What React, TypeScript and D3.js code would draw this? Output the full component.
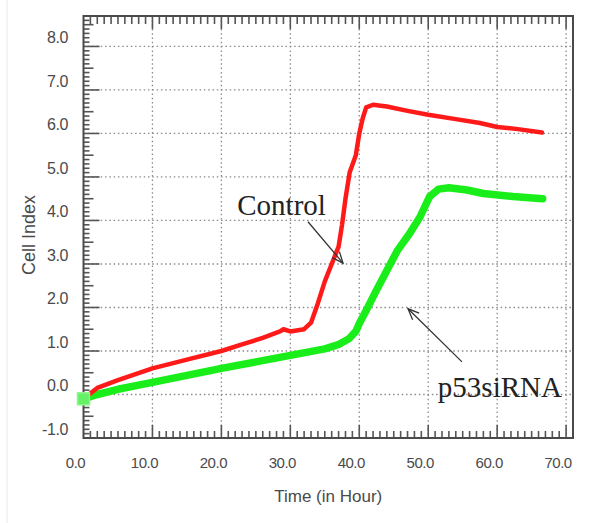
import React from "react";
import * as d3 from "d3";

const controlTime = [0, 2, 5, 10, 15, 20, 23, 26, 28.5, 29, 30, 32, 33, 34, 35, 36, 37, 37.5, 38, 38.6, 39.5, 40, 40.5, 41, 42, 44, 47, 50, 54, 57.5, 60, 63, 66.5];
const controlValue = [-0.1, 0.15, 0.33, 0.6, 0.8, 1.0, 1.15, 1.3, 1.45, 1.5, 1.45, 1.5, 1.65, 2.1, 2.6, 3.0, 3.4, 3.9, 4.5, 5.1, 5.5, 6.0, 6.35, 6.6, 6.66, 6.62, 6.52, 6.43, 6.33, 6.24, 6.15, 6.1, 6.02];

const sirnaTime = [0, 2, 5, 10, 15, 20, 25, 30, 35, 37, 38.5, 39.5, 40, 41, 42.5, 44, 45.5, 47.3, 48.8, 50.2, 51.5, 53, 55.6, 58, 62.3, 66.6];
const sirnaValue = [-0.1, 0.0, 0.12, 0.28, 0.44, 0.6, 0.75, 0.9, 1.05, 1.15, 1.28, 1.45, 1.63, 1.93, 2.4, 2.85, 3.3, 3.7, 4.08, 4.55, 4.72, 4.75, 4.7, 4.62, 4.55, 4.5];

const xTickValues = [0, 10, 20, 30, 40, 50, 60, 70];
const yTickValues = [-1, 0, 1, 2, 3, 4, 5, 6, 7, 8];

const annotationLabels = ["Control", "p53siRNA"];
const annotationTextPos = [[22.3, 4.13], [51.4, -0.06]];
const annotationArrowFrom = [[32.56, 3.97], [54.9, 0.75]];
const annotationArrowTo = [[37.64, 3.02], [47.07, 1.97]];

export default function App() {
  const W = 601, H = 523;
  const x = d3.scaleLinear().domain([0, 71]).range([83.5, 573]);
  const y = d3.scaleLinear().domain([-1, 8.7]).range([438, 16]);
  const left = x(0), right = x(71), top = y(8.7), bottom = y(-1);

  const line = d3.line<[number, number]>().x(d => x(d[0])).y(d => y(d[1]));
  const controlPts = controlTime.map((t, i) => [t, controlValue[i]] as [number, number]);
  const sirnaPts = sirnaTime.map((t, i) => [t, sirnaValue[i]] as [number, number]);

  const gridColor = "#8a8a8a";
  const axisColor = "#555";
  const textColor = "#4a4a4a";
  const sans = "Liberation Sans, Arial, sans-serif";

  const leftTicks: JSX.Element[] = [];
  for (let i = -10; i <= 87; i++) {
    const v = i / 10;
    const len = i % 10 === 0 ? 16 : i % 5 === 0 ? 10 : 6;
    leftTicks.push(<line key={"l" + i} x1={left} x2={left + len} y1={y(v)} y2={y(v)} stroke={axisColor} strokeWidth={1.6} />);
  }
  const hTicks: JSX.Element[] = [];
  for (let t = 1; t <= 70; t++) {
    const major = t % 10 === 0;
    hTicks.push(<line key={"b" + t} x1={x(t)} x2={x(t)} y1={bottom} y2={bottom - (major ? 13 : 7)} stroke={axisColor} strokeWidth={1.6} />);
    hTicks.push(<line key={"t" + t} x1={x(t)} x2={x(t)} y1={top} y2={top + (major ? 13 : 8)} stroke={axisColor} strokeWidth={1.6} />);
  }

  const arrow = (from: number[], to: number[], key: string) => {
    const x1 = x(from[0]), y1 = y(from[1]), x2 = x(to[0]), y2 = y(to[1]);
    const ang = Math.atan2(y1 - y2, x1 - x2);
    const hl = 12, ha = 0.4;
    return (
      <g key={key} stroke="#333" strokeWidth={1.3} fill="none">
        <line x1={x1} y1={y1} x2={x2} y2={y2} />
        <polyline points={`${x2 + hl * Math.cos(ang + ha)},${y2 + hl * Math.sin(ang + ha)} ${x2},${y2} ${x2 + hl * Math.cos(ang - ha)},${y2 + hl * Math.sin(ang - ha)}`} />
      </g>
    );
  };

  return (
    <div style={{ position: "absolute", left: 0, top: 0 }}>
      <svg width={W} height={H} style={{ display: "block", background: "#fff" }}>
        <line x1={7} x2={7} y1={0} y2={H} stroke="#e8e8e8" strokeWidth={1} />
        {xTickValues.filter(t => t > 0).map(t => (
          <line key={"gx" + t} x1={x(t)} x2={x(t)} y1={top} y2={bottom} stroke={gridColor} strokeWidth={1.3} strokeDasharray="1.5 2.8" />
        ))}
        {yTickValues.filter(v => v > -1).map(v => (
          <line key={"gy" + v} x1={left} x2={right} y1={y(v)} y2={y(v)} stroke={gridColor} strokeWidth={1.3} strokeDasharray="1.5 2.8" />
        ))}
        {leftTicks}
        {hTicks}
        <rect x={left} y={top} width={right - left} height={bottom - top} fill="none" stroke="#4a4a4a" strokeWidth={2} />
        {xTickValues.map(t => (
          <text key={"xl" + t} x={x(t) - 8} y={468} textAnchor="middle" fontFamily={sans} fontSize={15} fill={textColor} letterSpacing={-0.5}>{t.toFixed(1)}</text>
        ))}
        {yTickValues.map(v => (
          <text key={"yl" + v} x={68} y={y(v) - 3} textAnchor="end" fontFamily={sans} fontSize={16} fill={textColor} letterSpacing={-0.4}>{v.toFixed(1)}</text>
        ))}
        <text x={(left + right) / 2} y={502} textAnchor="middle" fontFamily={sans} fontSize={17} fill={textColor}>Time (in Hour)</text>
        <text transform={`translate(35, 235) rotate(-90)`} textAnchor="middle" fontFamily={sans} fontSize={18} fill={textColor}>Cell Index</text>
        <path d={line(sirnaPts) || ""} fill="none" stroke="#1aee1a" strokeWidth={7.5} strokeLinejoin="round" strokeLinecap="round" />
        <path d={line(controlPts) || ""} fill="none" stroke="#ff1a1a" strokeWidth={4.5} strokeLinejoin="round" strokeLinecap="round" />
        <rect x={x(sirnaTime[0]) - 6} y={y(sirnaValue[0]) - 6} width={12} height={12} fill="#66f066" stroke="#8cf58c" strokeWidth={1.5} />
        {annotationLabels.map((lab, i) => (
          <text key={"an" + i} x={x(annotationTextPos[i][0])} y={y(annotationTextPos[i][1])} fontFamily="Liberation Serif, Times New Roman, serif" fontSize={29} fill="#222">{lab}</text>
        ))}
        {annotationLabels.map((lab, i) => arrow(annotationArrowFrom[i], annotationArrowTo[i], "ar" + i))}
      </svg>
    </div>
  );
}
